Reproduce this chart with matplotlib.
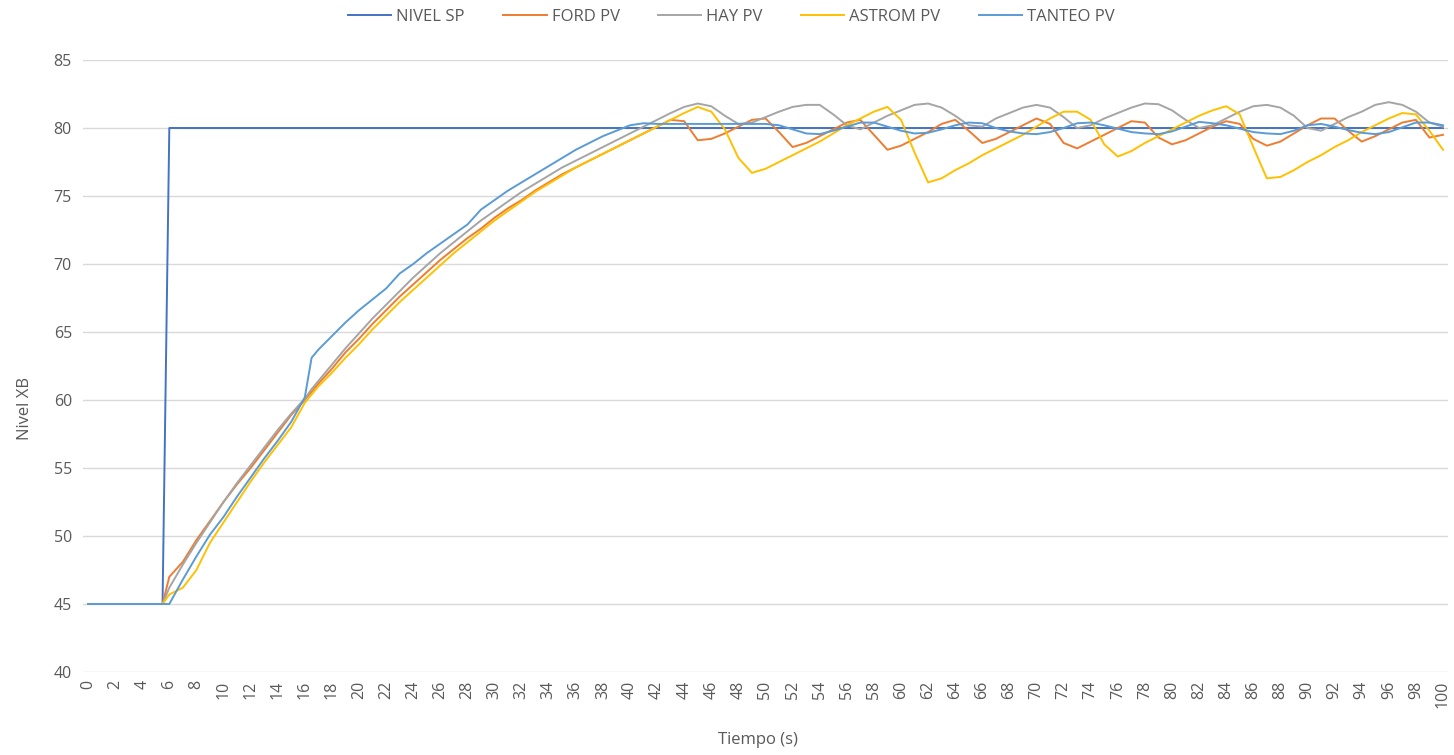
import matplotlib.pyplot as plt

# sample times (s); extra half-second points where the traces jump
tiempo = [0, 1, 2, 3, 4, 5, 5.5, 6, 7, 8, 9, 10, 11, 12, 13, 14, 15, 16, 16.5] + list(range(17, 101))

nivel_sp = [45] * 7 + [80] * (len(tiempo) - 7)

ford_pv = [
    45, 45, 45, 45, 45, 45, 45, 47.0, 48.1, 49.7, 51.1, 52.5, 53.8, 55.0, 56.3, 57.6, 58.9, 60.0, 60.6,
    61.2, 62.3, 63.5, 64.5, 65.6, 66.6, 67.6, 68.5, 69.4, 70.3, 71.1, 71.9, 72.6, 73.4,  # 17-30
    74.1, 74.7, 75.4, 76.0, 76.6, 77.1, 77.6, 78.1, 78.6, 79.1,  # 31-40
    79.6, 80.1, 80.6, 80.5, 79.1, 79.2, 79.6, 80.1, 80.6, 80.7,  # 41-50
    79.7, 78.6, 78.9, 79.4, 79.9, 80.4, 80.6, 79.5, 78.4, 78.7,  # 51-60
    79.2, 79.7, 80.3, 80.6, 79.8, 78.9, 79.2, 79.7, 80.2, 80.7,  # 61-70
    80.3, 78.9, 78.5, 79.0, 79.5, 80.0, 80.5, 80.4, 79.3, 78.8,  # 71-80
    79.1, 79.6, 80.1, 80.5, 80.3, 79.2, 78.7, 79.0, 79.6, 80.2,  # 81-90
    80.7, 80.7, 79.8, 79.0, 79.4, 79.9, 80.4, 80.6, 79.3, 79.5,  # 91-100
]

hay_pv = [
    45, 45, 45, 45, 45, 45, 45, 46.2, 47.9, 49.5, 51.0, 52.5, 53.9, 55.2, 56.5, 57.8, 59.0, 60.1, 60.8,
    61.4, 62.6, 63.8, 64.9, 66.0, 67.0, 68.0, 69.0, 69.9, 70.8, 71.6, 72.4, 73.2, 73.9,  # 17-30
    74.6, 75.3, 75.9, 76.5, 77.1, 77.6, 78.1, 78.6, 79.1, 79.6,  # 31-40
    80.1, 80.6, 81.1, 81.55, 81.8, 81.6, 80.9, 80.3, 80.4, 80.8,  # 41-50
    81.2, 81.55, 81.7, 81.7, 81.0, 80.2, 79.9, 80.4, 80.9, 81.3,  # 51-60
    81.7, 81.8, 81.5, 80.9, 80.2, 80.1, 80.7, 81.1, 81.5, 81.7,  # 61-70
    81.5, 80.8, 80.0, 80.2, 80.7, 81.1, 81.5, 81.8, 81.75, 81.3,  # 71-80
    80.6, 80.0, 80.2, 80.7, 81.2, 81.6, 81.7, 81.5, 80.9, 80.0,  # 81-90
    79.8, 80.3, 80.8, 81.2, 81.7, 81.9, 81.7, 81.2, 80.4, 80.1,  # 91-100
]

astrom_pv = [
    45, 45, 45, 45, 45, 45, 45, 45.7, 46.2, 47.5, 49.5, 51.0, 52.5, 54.0, 55.4, 56.7, 58.0, 59.8, 60.4,
    61.0, 62.0, 63.1, 64.1, 65.2, 66.2, 67.2, 68.1, 69.0, 69.9, 70.8, 71.6, 72.4, 73.2,  # 17-30
    73.9, 74.6, 75.3, 75.9, 76.5, 77.1, 77.6, 78.1, 78.6, 79.1,  # 31-40
    79.6, 80.1, 80.6, 81.1, 81.55, 81.2, 79.9, 77.8, 76.7, 77.0,  # 41-50
    77.5, 78.0, 78.5, 79.0, 79.6, 80.2, 80.7, 81.2, 81.55, 80.6,  # 51-60
    78.2, 76.0, 76.3, 76.9, 77.4, 78.0, 78.5, 79.0, 79.5, 80.1,  # 61-70
    80.7, 81.2, 81.2, 80.6, 78.8, 77.9, 78.3, 78.9, 79.4, 79.9,  # 71-80
    80.4, 80.9, 81.3, 81.6, 81.0, 78.6, 76.3, 76.4, 76.9, 77.5,  # 81-90
    78.0, 78.6, 79.1, 79.7, 80.2, 80.7, 81.1, 81.0, 79.8, 78.4,  # 91-100
]

tanteo_pv = [
    45, 45, 45, 45, 45, 45, 45, 45.0, 46.8, 48.5, 50.1, 51.4, 52.9, 54.3, 55.7, 57.0, 58.4, 60.2, 63.1,
    63.7, 64.7, 65.7, 66.6, 67.4, 68.2, 69.3, 70.0, 70.8, 71.5, 72.2, 72.9, 74.0, 74.7,  # 17-30
    75.4, 76.0, 76.6, 77.2, 77.8, 78.4, 78.9, 79.4, 79.8, 80.2,  # 31-40
    80.35, 80.3, 80.3, 80.3, 80.3, 80.3, 80.3, 80.3, 80.3, 80.3,  # 41-50
    80.2, 79.9, 79.6, 79.55, 79.8, 80.1, 80.4, 80.4, 80.1, 79.8,  # 51-60
    79.6, 79.65, 79.9, 80.2, 80.4, 80.35, 80.0, 79.75, 79.6, 79.55,  # 61-70
    79.7, 80.0, 80.35, 80.4, 80.2, 79.95, 79.7, 79.6, 79.55, 79.75,  # 71-80
    80.1, 80.45, 80.35, 80.2, 79.95, 79.7, 79.6, 79.55, 79.8, 80.2,  # 81-90
    80.3, 80.1, 79.85, 79.65, 79.55, 79.7, 80.05, 80.4, 80.4, 80.2,  # 91-100
]

series = [
    ("NIVEL SP", nivel_sp, "#4472C4"),
    ("FORD PV", ford_pv, "#ED7D31"),
    ("HAY PV", hay_pv, "#A5A5A5"),
    ("ASTROM PV", astrom_pv, "#FFC000"),
    ("TANTEO PV", tanteo_pv, "#5B9BD5"),
]

plt.rcParams["font.family"] = ["Open Sans", "DejaVu Sans"]

fig = plt.figure(figsize=(14.54, 7.55), dpi=100)
ax = fig.add_axes([83 / 1454, 1 - 672 / 755, (1448 - 83) / 1454, (672 - 60) / 755])

for name, values, color in series:
    ax.plot(tiempo, values, color=color, lw=1.4, label=name)

ax.set_xlim(-0.37, 100.37)
ax.set_ylim(40, 85)
ax.set_xticks(range(0, 101, 2))
ax.set_xticklabels([str(v) for v in range(0, 101, 2)], rotation=90)
ax.set_yticks(range(40, 86, 5))
ax.tick_params(axis="both", length=0, labelsize=11.5, labelcolor="#595959")
ax.tick_params(axis="y", pad=8)
ax.tick_params(axis="x", pad=6)
ax.grid(axis="y", color="#D9D9D9", lw=1.0)
ax.set_axisbelow(True)
for side in ["top", "right", "left", "bottom"]:
    ax.spines[side].set_visible(False)

fig.text(25 / 1454, 1 - 409 / 755, "Nivel XB", rotation=90, ha="center", va="center",
         fontsize=12, color="#595959")
fig.text(758 / 1454, 1 - 740 / 755, "Tiempo (s)", ha="center", va="center",
         fontsize=12, color="#595959")

fig.legend(loc="upper center", bbox_to_anchor=(0.503, 1.008), ncol=5, frameon=False,
           fontsize=12, handlelength=2.6, handletextpad=0.3, columnspacing=2.3,
           labelcolor="#595959")

fig.savefig("out.png", dpi=100, facecolor="white")
